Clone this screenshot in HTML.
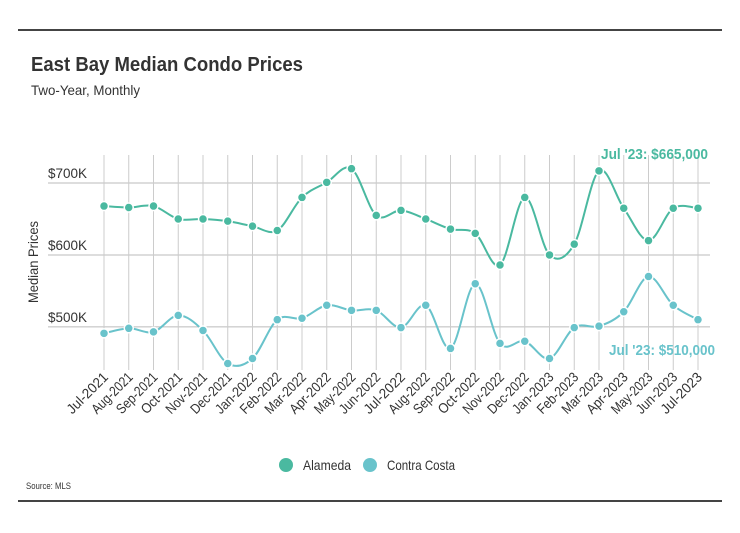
<!DOCTYPE html>
<html><head><meta charset="utf-8"><style>
html,body{margin:0;padding:0;background:#fff;}
svg{display:block;font-family:"Liberation Sans Narrow","Liberation Sans",sans-serif;}
</style></head><body>
<svg id="chart" width="740" height="533" viewBox="0 0 740 533">
<line x1="18" y1="30" x2="722" y2="30" stroke="#444" stroke-width="2"/>
<text x="31" y="71" font-size="20" font-weight="bold" fill="#333" textLength="272" lengthAdjust="spacingAndGlyphs">East Bay Median Condo Prices</text>
<text x="31" y="95" font-size="14" fill="#333" textLength="109" lengthAdjust="spacingAndGlyphs">Two-Year, Monthly</text>
<text transform="translate(38,262) rotate(-90)" text-anchor="middle" font-size="14" fill="#333" textLength="82" lengthAdjust="spacingAndGlyphs">Median Prices</text>
<g id="grid"></g><g id="series"></g><g id="labels"></g>
<g>
<circle cx="286" cy="465" r="7" fill="#4ab9a0"/>
<text x="303" y="470" font-size="14" fill="#333" textLength="48" lengthAdjust="spacingAndGlyphs">Alameda</text>
<circle cx="370" cy="465" r="7" fill="#69c3cb"/>
<text x="387" y="470" font-size="14" fill="#333" textLength="68" lengthAdjust="spacingAndGlyphs">Contra Costa</text>
</g>
<text x="26" y="489" font-size="9.5" fill="#333" textLength="45" lengthAdjust="spacingAndGlyphs">Source:  MLS</text>
<line x1="18" y1="501" x2="722" y2="501" stroke="#444" stroke-width="2"/>
</svg>
<script>
const categories=["Jul-2021","Aug-2021","Sep-2021","Oct-2021","Nov-2021","Dec-2021","Jan-2022","Feb-2022","Mar-2022","Apr-2022","May-2022","Jun-2022","Jul-2022","Aug-2022","Sep-2022","Oct-2022","Nov-2022","Dec-2022","Jan-2023","Feb-2023","Mar-2023","Apr-2023","May-2023","Jun-2023","Jul-2023"];
const alameda=[668,666,668,650,650,647,640,634,680,701,720,655,662,650,636,630,586,680,600,615,717,665,620,665,665];
const contraCosta=[491,498,493,516,495,449,456,510,512,530,523,523,499,530,470,560,477,480,456,499,501,521,570,530,510];
const yTicks=[500,600,700];
const yTickLabels=["$500K","$600K","$700K"];
const NS="http://www.w3.org/2000/svg";
const x0=104,x1=698,yTop=155,yBot=370,vMin=440,vMax=739;
const xs=i=>x0+(x1-x0)*i/(categories.length-1);
const ys=v=>yBot-(v-vMin)/(vMax-vMin)*(yBot-yTop);
function mk(tag,attrs,parent){const e=document.createElementNS(NS,tag);for(const k in attrs)e.setAttribute(k,attrs[k]);parent.appendChild(e);return e;}
const grid=document.getElementById('grid'),series=document.getElementById('series'),labels=document.getElementById('labels');
yTicks.forEach((t,i)=>{
 const l=mk('line',{x1:48,x2:710,y1:ys(t),y2:ys(t),stroke:'#bbb','stroke-width':1},grid);
 
 
 const tx=mk('text',{x:48,y:ys(t)-5,'font-size':14,fill:'#333',textLength:39,lengthAdjust:'spacingAndGlyphs'},grid);
 tx.textContent=yTickLabels[i];
 
 
});
categories.forEach((c,i)=>{
 const l=mk('line',{x1:xs(i),x2:xs(i),y1:yTop,y2:yBot,stroke:'#ccc','stroke-width':1},grid);
 
 
 const tx=mk('text',{transform:`translate(${xs(i)+5},${yBot+8}) rotate(-45)`,'text-anchor':'end','font-size':14,fill:'#333',textLength:c.length>8?58:52,lengthAdjust:'spacingAndGlyphs'},grid);
 tx.textContent=c;
 
 
});
function pathD(vals){
 const p=vals.map((v,i)=>[xs(i),ys(v)]);
 let d=`M${p[0][0]},${p[0][1]}`;
 for(let i=0;i<p.length-1;i++){
  const a=p[i-1]||p[i],b=p[i],c=p[i+1],e=p[i+2]||c;
  const t=1/6;
  d+=` C${b[0]+(c[0]-a[0])*t},${b[1]+(c[1]-a[1])*t} ${c[0]-(e[0]-b[0])*t},${c[1]-(e[1]-b[1])*t} ${c[0]},${c[1]}`;
 }
 return d;
}
[[alameda,'#4ab9a0','alameda'],[contraCosta,'#69c3cb','contra-costa']].forEach(([vals,col,nm])=>{
 const p=mk('path',{d:pathD(vals),fill:'none',stroke:col,'stroke-width':2},series);
 
 
 vals.forEach((v,i)=>{
  const c=mk('circle',{cx:xs(i),cy:ys(v),r:4.5,fill:col,stroke:'#fff','stroke-width':1.5},series);
  
  
 });
});
const la=mk('text',{x:708,y:159,'text-anchor':'end','font-size':15,'font-weight':'bold',fill:'#4ab9a0',textLength:107,lengthAdjust:'spacingAndGlyphs'},labels);
la.textContent="Jul '23: $665,000";


const lc=mk('text',{x:715,y:355,'text-anchor':'end','font-size':15,'font-weight':'bold',fill:'#69c3cb',textLength:106,lengthAdjust:'spacingAndGlyphs'},labels);
lc.textContent="Jul '23: $510,000";


</script>
</body></html>
